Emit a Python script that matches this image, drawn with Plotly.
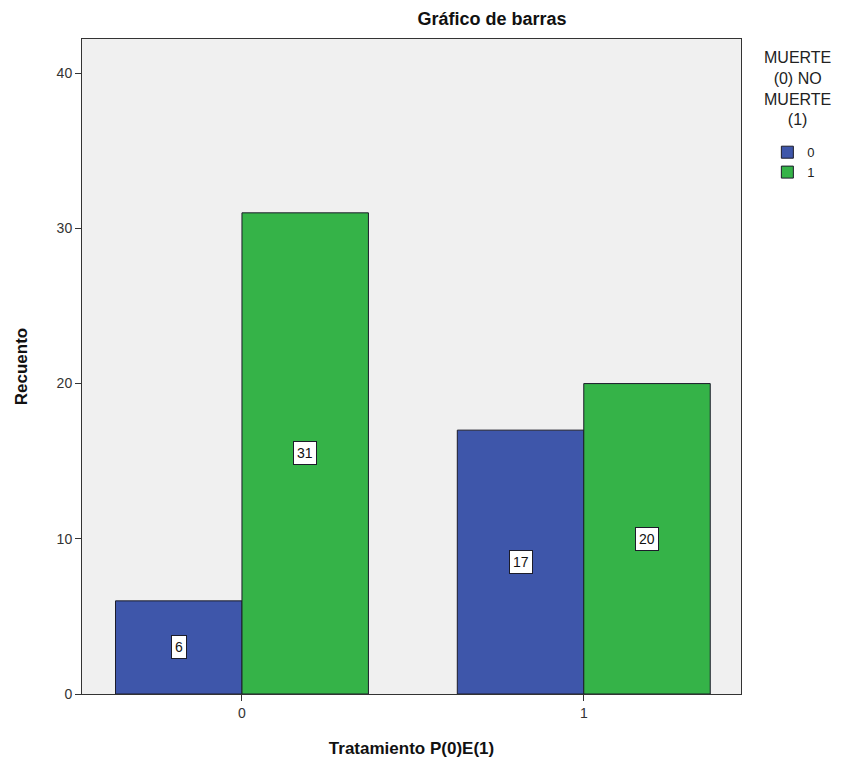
import plotly.graph_objects as go

categories = [0, 1]
tick_labels = ["0", "1"]
series_names = ["0", "1"]
counts_muerte_0 = [6, 17]
counts_muerte_1 = [31, 20]

colors = ["#3e56aa", "#35b348"]
bar_width = 0.37
font_family = "Arial, Liberation Sans, sans-serif"

fig = go.Figure()
series = [counts_muerte_0, counts_muerte_1]
for i, (name, vals) in enumerate(zip(series_names, series)):
    fig.add_trace(go.Bar(
        x=categories,
        y=vals,
        name=name,
        width=bar_width,
        offset=(i - 1) * bar_width,
        marker=dict(color=colors[i], line=dict(color="#1c1c2a", width=1)),
    ))
    # value labels in white boxes at mid-height of each bar
    for xc, v in zip(categories, vals):
        fig.add_annotation(
            x=xc + (i - 0.5) * bar_width,
            y=v / 2,
            xref="x", yref="y",
            text=str(v),
            showarrow=False,
            font=dict(family=font_family, size=14, color="#111111"),
            bgcolor="white",
            bordercolor="#1c1c2a",
            borderwidth=1,
            borderpad=3,
        )

# legend title drawn as a centred block above the legend items
fig.add_annotation(
    x=1.085, xref="paper", xanchor="center",
    y=0.988, yref="paper", yanchor="top",
    text="MUERTE<br>(0) NO<br>MUERTE<br>(1)",
    showarrow=False, align="center",
    font=dict(family=font_family, size=16, color="#222222"),
)

fig.update_layout(
    width=846, height=772,
    margin=dict(l=74, r=113, t=31, b=86),
    paper_bgcolor="white",
    plot_bgcolor="#f0f0f0",
    font=dict(family=font_family, size=14, color="#333333"),
    title=dict(
        text="<b>Gráfico de barras</b>",
        x=0.572, xanchor="center", y=0.986, yanchor="middle",
        font=dict(family=font_family, size=18, color="#111111"),
    ),
    barmode="overlay",
    showlegend=True,
    legend=dict(
        x=1.04, xanchor="left", y=0.85, yanchor="top",
        font=dict(size=13, color="#222222"),
        itemwidth=30,
        tracegroupgap=0,
        bgcolor="rgba(0,0,0,0)",
    ),
    xaxis=dict(
        tickmode="array", tickvals=categories, ticktext=tick_labels,
        range=[-0.468, 1.46],
        ticks="outside", ticklen=6, tickcolor="#333333",
        showline=True, linecolor="#333333", linewidth=1, mirror=True,
        showgrid=False, zeroline=False,
        title=dict(text="<b>Tratamiento P(0)E(1)</b>", standoff=22,
                   font=dict(size=17, color="#111111")),
    ),
    yaxis=dict(
        range=[0, 42.2],
        tickvals=[0, 10, 20, 30, 40],
        ticks="outside", ticklen=6, tickcolor="#333333",
        showline=True, linecolor="#333333", linewidth=1, mirror=True,
        showgrid=False, zeroline=False,
        title=dict(text="<b>Recuento</b>", standoff=24,
                   font=dict(size=17, color="#111111")),
    ),
)

fig.write_html("out.html")
